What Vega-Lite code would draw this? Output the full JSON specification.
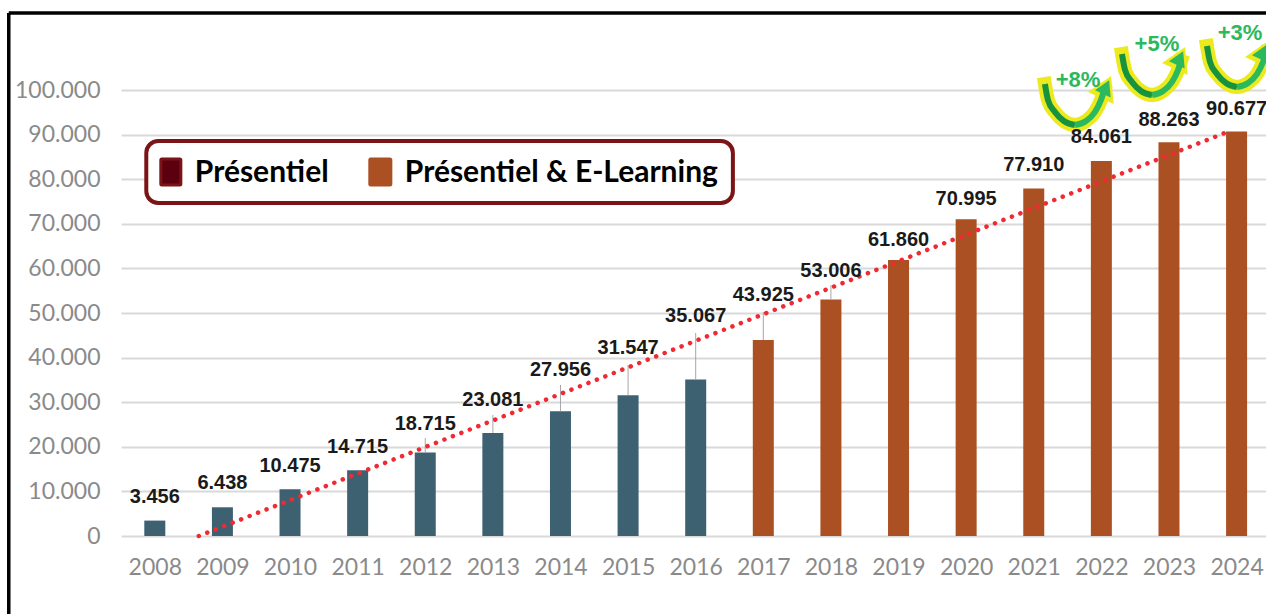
{"$schema":"https://vega.github.io/schema/vega-lite/v6.json","width":1145,"height":446,"autosize":"none","padding":{"left":121,"top":90,"right":0,"bottom":78},"background":"white",
"config":{"view":{"stroke":null},"font":"Lato"},
"datasets":{
"bars":[
{"year":2008,"value":3456,"series":"Présentiel","label":"3.456","labelAt":8744},
{"year":2009,"value":6438,"series":"Présentiel","label":"6.438","labelAt":11883},
{"year":2010,"value":10475,"series":"Présentiel","label":"10.475","labelAt":15695},
{"year":2011,"value":14715,"series":"Présentiel","label":"14.715","labelAt":19955},
{"year":2012,"value":18715,"series":"Présentiel","label":"18.715","labelAt":25112,"leaderTop":21973},
{"year":2013,"value":23081,"series":"Présentiel","label":"23.081","labelAt":30493,"leaderTop":27130},
{"year":2014,"value":27956,"series":"Présentiel","label":"27.956","labelAt":37220,"leaderTop":33856},
{"year":2015,"value":31547,"series":"Présentiel","label":"31.547","labelAt":42152,"leaderTop":38340},
{"year":2016,"value":35067,"series":"Présentiel","label":"35.067","labelAt":49327,"leaderTop":45516},
{"year":2017,"value":43925,"series":"Présentiel & E-Learning","label":"43.925","labelAt":54036,"leaderTop":50224},
{"year":2018,"value":53006,"series":"Présentiel & E-Learning","label":"53.006","labelAt":59417,"leaderTop":56278},
{"year":2019,"value":61860,"series":"Présentiel & E-Learning","label":"61.860","labelAt":66368},
{"year":2020,"value":70995,"series":"Présentiel & E-Learning","label":"70.995","labelAt":75561},
{"year":2021,"value":77910,"series":"Présentiel & E-Learning","label":"77.910","labelAt":83184},
{"year":2022,"value":84061,"series":"Présentiel & E-Learning","label":"84.061","labelAt":89462},
{"year":2023,"value":88263,"series":"Présentiel & E-Learning","label":"88.263","labelAt":93274},
{"year":2024,"value":90677,"series":"Présentiel & E-Learning","label":"90.677","labelAt":95740}],
"arrows":[
{"arrow":"a","part":"fall","o":0,"x":2021.165,"y":101345},{"arrow":"a","part":"fall","o":1,"x":2021.21,"y":97757},{"arrow":"a","part":"fall","o":2,"x":2021.313,"y":95067},{"arrow":"a","part":"fall","o":3,"x":2021.446,"y":93049},{"arrow":"a","part":"fall","o":4,"x":2021.609,"y":92152},
{"arrow":"a","part":"rise","o":4,"x":2021.609,"y":92152},{"arrow":"a","part":"rise","o":5,"x":2021.772,"y":93049},{"arrow":"a","part":"rise","o":6,"x":2021.905,"y":95067},{"arrow":"a","part":"rise","o":7,"x":2021.994,"y":97757},{"arrow":"a","part":"rise","o":8,"x":2022.038,"y":99775},
{"arrow":"b","part":"fall","o":0,"x":2022.305,"y":108072},{"arrow":"b","part":"fall","o":1,"x":2022.35,"y":104484},{"arrow":"b","part":"fall","o":2,"x":2022.453,"y":101794},{"arrow":"b","part":"fall","o":3,"x":2022.586,"y":99776},{"arrow":"b","part":"fall","o":4,"x":2022.749,"y":98879},
{"arrow":"b","part":"rise","o":4,"x":2022.749,"y":98879},{"arrow":"b","part":"rise","o":5,"x":2022.912,"y":99776},{"arrow":"b","part":"rise","o":6,"x":2023.045,"y":101794},{"arrow":"b","part":"rise","o":7,"x":2023.134,"y":104484},{"arrow":"b","part":"rise","o":8,"x":2023.178,"y":106502},
{"arrow":"c","part":"fall","o":0,"x":2023.562,"y":109866},{"arrow":"c","part":"fall","o":1,"x":2023.607,"y":106278},{"arrow":"c","part":"fall","o":2,"x":2023.71,"y":103588},{"arrow":"c","part":"fall","o":3,"x":2023.843,"y":101570},{"arrow":"c","part":"fall","o":4,"x":2024.006,"y":100673},
{"arrow":"c","part":"rise","o":4,"x":2024.006,"y":100673},{"arrow":"c","part":"rise","o":5,"x":2024.169,"y":101570},{"arrow":"c","part":"rise","o":6,"x":2024.302,"y":103588},{"arrow":"c","part":"rise","o":7,"x":2024.391,"y":106278},{"arrow":"c","part":"rise","o":8,"x":2024.435,"y":108296}],
"heads":[{"x":2022.068,"y":100673},{"x":2023.163,"y":107175},{"x":2024.391,"y":108520}],
"growth":[{"x":2021.654,"y":102242,"t":"+8%"},{"x":2022.822,"y":110314,"t":"+5%"},{"x":2024.05,"y":112780,"t":"+3%"}],
"trend":[{"x":2008.65,"y":0},{"x":2023.9,"y":90800}],
"frame":[{"x":2005.84,"x2":2024.435,"y":117265,"y2":117265},{"x":2005.84,"x2":2005.84,"y":117265,"y2":-17489}],
"legendBox":[{"x":2007.874,"x2":2016.55,"y":88565,"y2":74664}],
"legendKeys":[
{"series":"Présentiel","x":2008.089,"x2":2008.385,"y":84529,"y2":78700,"textX":2008.592,"textY":81300},
{"series":"Présentiel & E-Learning","x":2011.18,"x2":2011.491,"y":84529,"y2":78700,"textX":2011.698,"textY":81300}]
},
"layer":[
{"data":{"name":"bars"},"mark":{"type":"bar","width":21,"orient":"vertical"},
"encoding":{
"x":{"field":"year","type":"quantitative","scale":{"domain":[2007.5,2024.435],"nice":false,"zero":false,"padding":0},"title":null,
"axis":{"values":[2008,2009,2010,2011,2012,2013,2014,2015,2016,2017,2018,2019,2020,2021,2022,2023,2024],"format":"d","grid":false,"ticks":false,"domain":false,"labelFontSize":23,"labelColor":"#8a8a8a","labelPadding":20,"labelFlush":false,"labelOverlap":false,"labelFont":"Lato"}},
"y":{"field":"value","type":"quantitative","scale":{"domain":[0,100000],"nice":false},"title":null,
"axis":{"values":[0,10000,20000,30000,40000,50000,60000,70000,80000,90000,100000],"grid":true,"gridColor":"#d9d9d9","gridWidth":2,"ticks":false,"domain":false,"labelFontSize":23,"labelColor":"#8a8a8a","labelPadding":21,"labelFont":"Lato","labelExpr":"replace(format(datum.value, ','), ',', '.')"}},
"fill":{"field":"series","type":"nominal","scale":{"domain":["Présentiel","Présentiel & E-Learning"],"range":["#3e6172","#ab5023"]},"legend":null}}},
{"data":{"name":"bars"},"transform":[{"filter":"datum.leaderTop > 0"}],"mark":{"type":"rule","color":"#a6a6a6","strokeWidth":1},"encoding":{"x":{"field":"year","type":"quantitative"},"y":{"field":"value","type":"quantitative"},"y2":{"field":"leaderTop"}}},
{"data":{"name":"legendBox"},"mark":{"type":"rect","fill":"#ffffff","stroke":"#7b1416","strokeWidth":4,"cornerRadius":12},"encoding":{"x":{"field":"x","type":"quantitative"},"x2":{"field":"x2"},"y":{"field":"y","type":"quantitative"},"y2":{"field":"y2"}}},
{"data":{"name":"legendKeys"},"mark":{"type":"rect","strokeWidth":3,"cornerRadius":1},"encoding":{"x":{"field":"x","type":"quantitative"},"x2":{"field":"x2"},"y":{"field":"y","type":"quantitative"},"y2":{"field":"y2"},
"color":{"field":"series","type":"nominal","scale":{"domain":["Présentiel","Présentiel & E-Learning"],"range":["#5c0010","#ab5023"]},"legend":null},
"stroke":{"field":"series","type":"nominal","scale":{"domain":["Présentiel","Présentiel & E-Learning"],"range":["#7b1416","#ab5023"]},"legend":null}}},
{"data":{"name":"legendKeys"},"mark":{"type":"text","font":"Lato","fontWeight":"bold","fontSize":30,"color":"#000000","align":"left","baseline":"middle"},"encoding":{"x":{"field":"textX","type":"quantitative"},"y":{"field":"textY","type":"quantitative"},"text":{"field":"series","type":"nominal"}}},
{"data":{"name":"trend"},"mark":{"type":"line","color":"#f02a33","strokeWidth":4.5,"strokeCap":"round","strokeDash":[0.1,9]},"encoding":{"x":{"field":"x","type":"quantitative"},"y":{"field":"y","type":"quantitative"}}},
{"data":{"name":"arrows"},"mark":{"type":"line","color":"#ecea1e","strokeWidth":14,"strokeCap":"square","interpolate":"monotone"},"encoding":{"x":{"field":"x","type":"quantitative"},"y":{"field":"y","type":"quantitative"},"detail":{"field":"arrow"},"order":{"field":"o"}}},
{"data":{"name":"heads"},"mark":{"type":"point","shape":"triangle-up","filled":true,"size":800,"angle":25,"color":"#ecea1e","opacity":1},"encoding":{"x":{"field":"x","type":"quantitative"},"y":{"field":"y","type":"quantitative"}}},
{"data":{"name":"arrows"},"transform":[{"filter":"datum.part === 'fall'"}],"mark":{"type":"line","color":"#17923f","strokeWidth":6,"interpolate":"monotone"},"encoding":{"x":{"field":"x","type":"quantitative"},"y":{"field":"y","type":"quantitative"},"detail":{"field":"arrow"},"order":{"field":"o"}}},
{"data":{"name":"arrows"},"transform":[{"filter":"datum.part === 'rise'"}],"mark":{"type":"line","color":"#2cb85c","strokeWidth":6,"interpolate":"monotone"},"encoding":{"x":{"field":"x","type":"quantitative"},"y":{"field":"y","type":"quantitative"},"detail":{"field":"arrow"},"order":{"field":"o"}}},
{"data":{"name":"heads"},"mark":{"type":"point","shape":"triangle-up","filled":true,"size":300,"angle":25,"color":"#2cb85c","opacity":1},"encoding":{"x":{"field":"x","type":"quantitative"},"y":{"field":"y","type":"quantitative"}}},
{"data":{"name":"bars"},"mark":{"type":"text","font":"Liberation Sans","fontWeight":"bold","fontSize":20,"color":"#1a1a1a","baseline":"middle","align":"center"},"encoding":{"x":{"field":"year","type":"quantitative"},"y":{"field":"labelAt","type":"quantitative"},"text":{"field":"label","type":"nominal"}}},
{"data":{"name":"growth"},"mark":{"type":"text","font":"Liberation Sans","fontWeight":"bold","fontSize":22,"color":"#2cb85c","baseline":"middle"},"encoding":{"x":{"field":"x","type":"quantitative"},"y":{"field":"y","type":"quantitative"},"text":{"field":"t","type":"nominal"}}},
{"data":{"name":"frame"},"mark":{"type":"rule","color":"#000000","strokeWidth":3.5},"encoding":{"x":{"field":"x","type":"quantitative"},"x2":{"field":"x2"},"y":{"field":"y","type":"quantitative"},"y2":{"field":"y2"}}}
]}
